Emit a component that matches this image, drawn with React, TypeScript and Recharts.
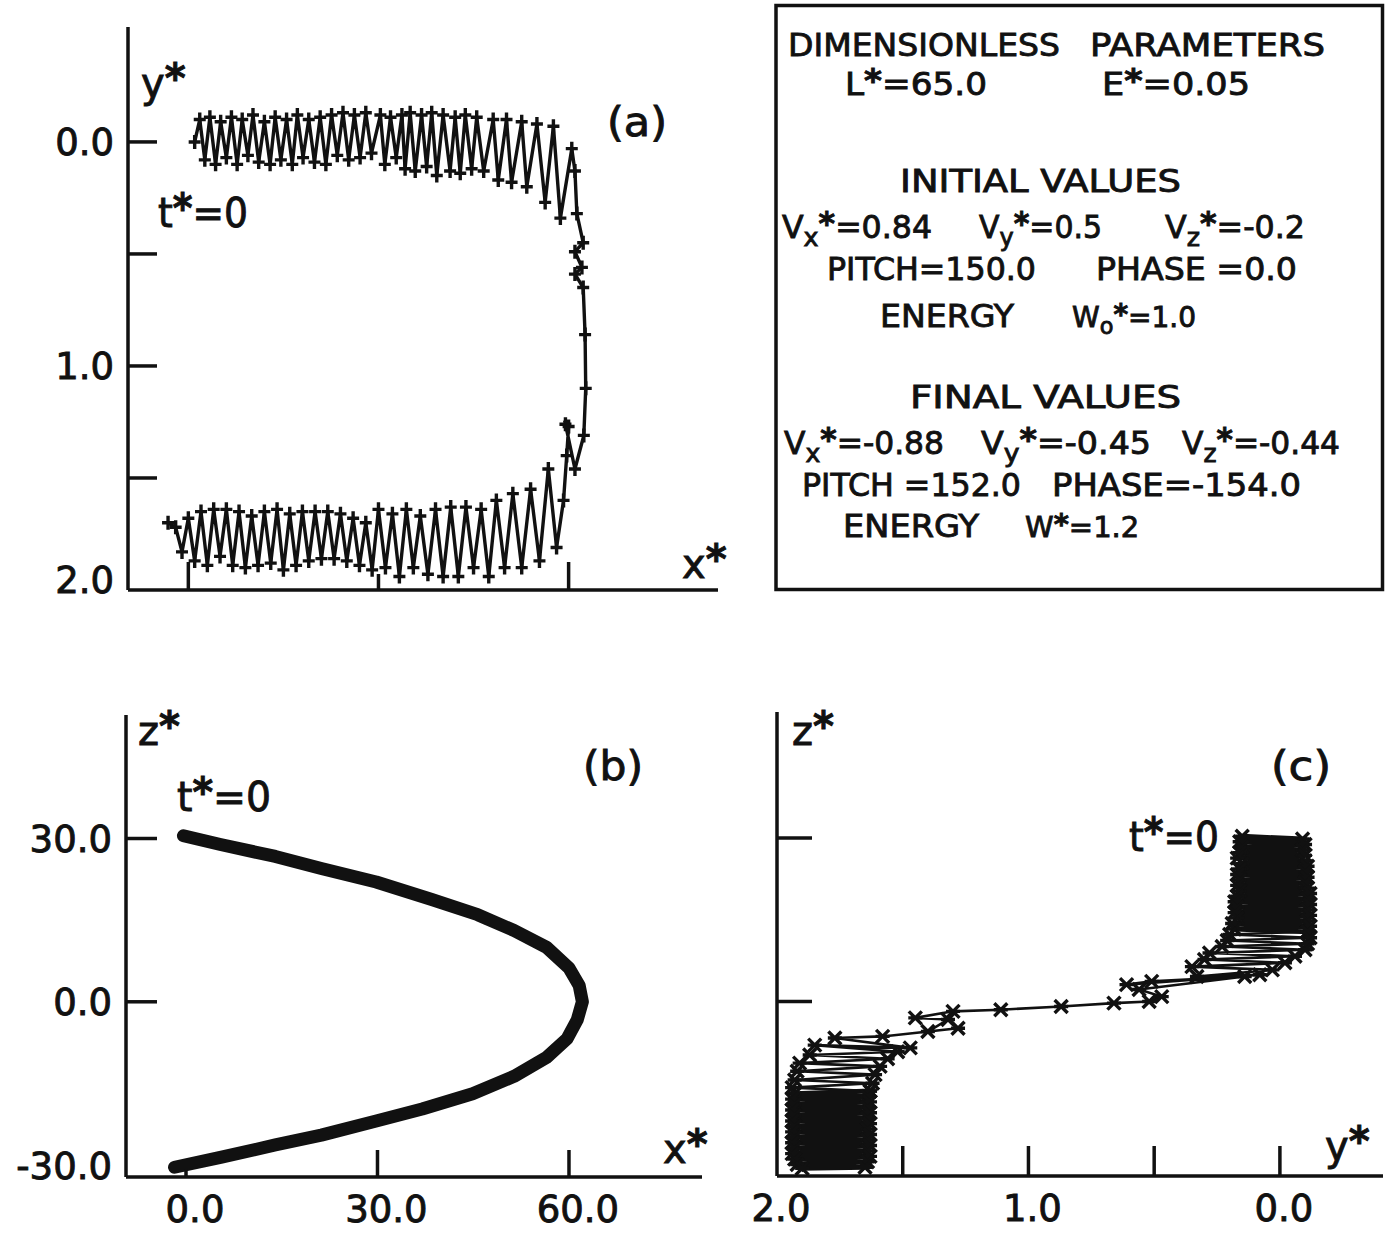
import { Scatter, ScatterChart, XAxis, YAxis } from 'recharts'

const FONT = '"DejaVu Sans", sans-serif'
const INK = '#111'

// (a) x* against y*: outward pass, turn at the mirror, return pass
const A_UPPER: [number, number][] = [
  [1.0, 0.0], [1.8, -0.1], [2.6, 0.08], [3.4, -0.11], [4.3, 0.1], [5.1, -0.09], [6.0, 0.07], [6.8, -0.11],
  [7.7, 0.1], [8.5, -0.1], [9.4, 0.06], [10.2, -0.12], [11.1, 0.09], [12.0, -0.09], [12.9, 0.1], [13.7, -0.11],
  [14.6, 0.08], [15.5, -0.1], [16.4, 0.1], [17.2, -0.12], [18.1, 0.07], [19.0, -0.1], [19.9, 0.09], [20.8, -0.11],
  [21.7, 0.1], [22.6, -0.12], [23.5, 0.06], [24.4, -0.13], [25.3, 0.08], [26.2, -0.12], [27.1, 0.07], [28.0, -0.13],
  [28.9, 0.05], [30.3, -0.12], [31.0, 0.1], [31.9, -0.11], [32.8, 0.07], [33.7, -0.12], [34.2, 0.12], [35.0, -0.13],
  [35.8, 0.13], [36.8, -0.12], [37.6, 0.11], [38.4, -0.13], [39.2, 0.15], [40.2, -0.12], [41.3, 0.13], [42.1, -0.11],
  [42.9, 0.14], [43.7, -0.12], [44.7, 0.12], [45.5, -0.11], [46.6, 0.13], [48.1, -0.1], [48.9, 0.17], [50.2, -0.1],
  [51.0, 0.18], [52.6, -0.09], [53.4, 0.2], [55.0, -0.08], [56.3, 0.27], [57.6, -0.07], [58.7, 0.34], [60.5, 0.03],
]
const A_TURN: [number, number][] = [
  [61.0, 0.13], [61.3, 0.32], [62.3, 0.45], [61.0, 0.49], [62.1, 0.56], [61.0, 0.59], [62.3, 0.65], [62.6, 0.86],
  [62.7, 1.1], [62.4, 1.31], [61.0, 1.46], [59.5, 1.26], [60.0, 1.27], [59.7, 1.4], [59.2, 1.6], [58.1, 1.81],
]
const A_LOWER: [number, number][] = [
  [56.8, 1.46], [55.4, 1.87], [54.0, 1.55], [52.6, 1.9], [51.2, 1.57], [49.9, 1.9], [48.6, 1.6], [47.4, 1.94],
  [46.2, 1.64], [45.0, 1.9], [43.8, 1.63], [42.6, 1.94], [41.4, 1.63], [40.2, 1.94], [39.0, 1.64], [37.8, 1.93],
  [36.6, 1.67], [35.5, 1.9], [34.4, 1.64], [33.3, 1.94], [32.2, 1.66], [31.1, 1.9], [30.0, 1.64], [29.0, 1.91],
  [28.0, 1.7], [27.0, 1.89], [26.0, 1.68], [25.0, 1.87], [24.0, 1.66], [23.0, 1.86], [22.0, 1.65], [21.0, 1.86],
  [20.0, 1.65], [19.0, 1.87], [18.0, 1.65], [17.0, 1.89], [16.0, 1.66], [15.0, 1.91], [14.0, 1.64], [13.0, 1.88],
  [12.0, 1.65], [11.0, 1.89], [10.0, 1.67], [9.0, 1.9], [8.0, 1.65], [7.0, 1.89], [6.0, 1.64], [5.0, 1.85],
  [4.0, 1.64], [3.0, 1.89], [2.0, 1.65], [1.0, 1.87], [0.0, 1.68], [-1.0, 1.83], [-2.0, 1.72], [-3.2, 1.7],
]

// (b) x* against z*
const B_PATH: [number, number][] = [
  [-0.4, 30.5], [5.4, 28.9], [14.0, 26.7], [21.2, 24.5], [29.8, 22.0], [38.5, 18.8], [45.7, 16.0], [51.4, 13.1],
  [56.5, 10.0], [60.0, 6.2], [61.6, 3.0], [62.1, 0.0], [61.3, -3.3], [59.7, -6.8], [56.5, -10.2], [51.4, -13.7],
  [44.9, -16.9], [37.0, -19.7], [29.8, -21.9], [21.2, -24.5], [14.0, -26.3], [5.4, -28.6], [-1.8, -30.4],
]

// (c) y* against z*: dense start, crossing, dense end
const C_TOP: [number, number][] = [
  [0.15, 30.3], [-0.09, 29.8], [0.16, 29.3], [-0.1, 28.8], [0.15, 28.3], [-0.09, 27.8], [0.16, 27.3], [-0.1, 26.8],
  [0.17, 26.3], [-0.1, 25.8], [0.15, 25.3], [-0.11, 24.8], [0.16, 24.3], [-0.1, 23.8], [0.17, 23.3], [-0.11, 22.8],
  [0.16, 22.3], [-0.1, 21.8], [0.17, 21.3], [-0.11, 20.8], [0.16, 20.3], [-0.12, 19.8], [0.17, 19.3], [-0.11, 18.8],
  [0.18, 18.3], [-0.12, 17.8], [0.17, 17.3], [-0.11, 16.8], [0.18, 16.3], [-0.12, 15.8], [0.17, 15.3], [-0.11, 14.8],
  [0.19, 14.3], [-0.12, 13.8], [0.18, 13.3], [-0.11, 12.8],
]
const C_MID: [number, number][] = [
  [0.2, 12.3], [-0.12, 11.7], [0.21, 11.2], [-0.11, 10.6], [0.23, 10.1], [-0.1, 9.5], [0.28, 8.9], [-0.06, 8.3],
  [0.3, 7.7], [-0.02, 7.1], [0.35, 6.4], [0.03, 5.8], [0.33, 4.6], [0.08, 4.9], [0.61, 3.1], [0.51, 3.7],
  [0.14, 4.6], [0.56, 2.2], [0.47, 0.9], [0.52, 0.0], [0.66, -0.3], [0.87, -0.9], [1.11, -1.5], [1.3, -1.8],
  [1.45, -3.0], [1.32, -3.3], [1.4, -5.5], [1.28, -4.9],
]
const C_LAYER: [number, number][] = [
  [1.58, -6.4], [1.77, -6.7], [1.47, -8.5], [1.85, -8.0], [1.52, -9.2], [1.87, -9.8], [1.56, -10.5], [1.91, -11.3],
  [1.59, -11.9], [1.92, -12.8], [1.61, -13.4], [1.93, -14.4], [1.62, -15.0], [1.94, -15.8], [1.63, -16.4],
]
const C_BASE: [number, number][] = [
  [1.93, -16.9], [1.64, -17.4], [1.94, -17.9], [1.63, -18.4], [1.93, -18.9], [1.64, -19.4], [1.94, -19.9], [1.63, -20.4],
  [1.93, -20.9], [1.64, -21.4], [1.94, -21.9], [1.63, -22.4], [1.93, -22.9], [1.64, -23.4], [1.94, -23.9], [1.63, -24.4],
  [1.93, -24.9], [1.64, -25.4], [1.94, -25.9], [1.63, -26.4], [1.93, -26.9], [1.64, -27.4], [1.94, -27.9], [1.63, -28.4],
  [1.93, -28.9], [1.64, -29.4], [1.92, -29.9], [1.65, -30.4], [1.9, -30.6],
]

const A_X_TICKS = [0, 30, 60]
const A_Y_TICKS = [0, 0.5, 1, 1.5, 2]
const B_X_TICKS = [0, 30, 60]
const B_Y_TICKS = [-30, 0, 30]
const C_X_TICKS = [0, 0.5, 1, 1.5, 2]
const C_Y_TICKS = [0, 30]

const toXY = (pts: [number, number][]) => pts.map(([x, y]) => ({ x, y }))

const AXIS = { stroke: INK, strokeWidth: 3.5 }
const TEXT_STROKE = { stroke: INK, strokeWidth: 0.9 }

type TickOpts = {
  len: (v: number) => number
  label: (v: number) => boolean
  dx?: number
  lift?: (v: number) => number
}

function yTick({ len, label, lift = () => 0 }: TickOpts) {
  return (props: any) => {
    const { x, y, payload } = props
    const v = payload.value as number
    const l = len(v)
    return (
      <g>
        {l > 0 && <line x1={x} x2={x + l} y1={y} y2={y} stroke={INK} strokeWidth={3.5} />}
        {label(v) && (
          <text x={x - 14} y={y + 13.5 - lift(v)} textAnchor="end" fontSize={37} fontFamily={FONT} fill={INK} {...TEXT_STROKE}>
            {v.toFixed(1)}
          </text>
        )}
      </g>
    )
  }
}

function xTick({ len, label, dx = 0 }: TickOpts) {
  return (props: any) => {
    const { x, y, payload } = props
    const v = payload.value as number
    const l = len(v)
    return (
      <g>
        {l > 0 && <line x1={x} x2={x} y1={y} y2={y - l} stroke={INK} strokeWidth={3.5} />}
        {label(v) && (
          <text x={x + dx} y={y + 45} textAnchor="middle" fontSize={37} fontFamily={FONT} fill={INK} {...TEXT_STROKE}>
            {v.toFixed(1)}
          </text>
        )}
      </g>
    )
  }
}

const Plus = (p: any) => (
  <path d={`M${p.cx - 6},${p.cy}h12M${p.cx},${p.cy - 7}v14`} stroke={INK} strokeWidth={3.4} />
)
const Cross = (p: any) => (
  <path d={`M${p.cx - 6.5},${p.cy - 6.5}l13,13M${p.cx + 6.5},${p.cy - 6.5}l-13,13M${p.cx - 7},${p.cy}h14`} stroke={INK} strokeWidth={3.4} />
)
const NoDot = () => <g />

type Part = [string, ('sup' | 'sub')?]

function Rich({ x, y, size, w, parts }: { x: number; y: number; size: number; w?: number; parts: Part[] }) {
  let off = 0
  return (
    <text x={x} y={y} fontSize={size} fontFamily={FONT} fill={INK} {...TEXT_STROKE} textLength={w} lengthAdjust={w ? 'spacingAndGlyphs' : undefined}>
      {parts.map(([t, k], i) => {
        const target = k === 'sup' ? -0.12 * size : k === 'sub' ? 0.26 * size : 0
        const dy = target - off
        off = target
        return (
          <tspan key={i} dy={dy || undefined} fontSize={k === 'sub' ? size * 0.8 : size} fontWeight={t === '*' ? 'bold' : undefined}>
            {t}
          </tspan>
        )
      })}
    </text>
  )
}

const BOX = 32

function Annotations() {
  return (
    <svg width={1389} height={1239} style={{ position: 'absolute', left: 0, top: 0, pointerEvents: 'none' }}>
      <rect x={776} y={5.5} width={606.5} height={584} fill="none" stroke={INK} strokeWidth={3.5} />

      <Rich x={788} y={56} size={BOX} w={272} parts={[['DIMENSIONLESS']]} />
      <Rich x={1090} y={56} size={BOX} w={235} parts={[['PARAMETERS']]} />
      <Rich x={845} y={95} size={BOX} w={142} parts={[['L'], ['*', 'sup'], ['=65.0']]} />
      <Rich x={1102} y={95} size={BOX} w={148} parts={[['E'], ['*', 'sup'], ['=0.05']]} />

      <Rich x={900} y={192} size={BOX} w={281} parts={[['INITIAL  VALUES']]} />
      <Rich x={782} y={238} size={BOX} w={150} parts={[['V'], ['x', 'sub'], ['*', 'sup'], ['=0.84']]} />
      <Rich x={979} y={238} size={BOX} w={123} parts={[['V'], ['y', 'sub'], ['*', 'sup'], ['=0.5']]} />
      <Rich x={1165} y={238} size={BOX} w={140} parts={[['V'], ['z', 'sub'], ['*', 'sup'], ['=-0.2']]} />
      <Rich x={827} y={280} size={BOX} w={209} parts={[['PITCH=150.0']]} />
      <Rich x={1096} y={280} size={BOX} w={201} parts={[['PHASE =0.0']]} />
      <Rich x={880} y={327} size={BOX} w={134} parts={[['ENERGY']]} />
      <Rich x={1072} y={327} size={28} parts={[['W'], ['o', 'sub'], ['*', 'sup'], ['=1.0']]} />

      <Rich x={910} y={408} size={BOX} w={271} parts={[['FINAL  VALUES']]} />
      <Rich x={784} y={454} size={BOX} w={160} parts={[['V'], ['x', 'sub'], ['*', 'sup'], ['=-0.88']]} />
      <Rich x={981} y={454} size={BOX} w={170} parts={[['V'], ['y', 'sub'], ['*', 'sup'], ['=-0.45']]} />
      <Rich x={1182} y={454} size={BOX} w={158} parts={[['V'], ['z', 'sub'], ['*', 'sup'], ['=-0.44']]} />
      <Rich x={802} y={496} size={BOX} w={219} parts={[['PITCH =152.0']]} />
      <Rich x={1052} y={496} size={BOX} w={249} parts={[['PHASE=-154.0']]} />
      <Rich x={843} y={537} size={BOX} w={136} parts={[['ENERGY']]} />
      <Rich x={1025} y={537} size={29} parts={[['W'], ['*', 'sup'], ['=1.2']]} />

      {/* panel (a) */}
      <Rich x={141} y={97} size={40} parts={[['y'], ['*', 'sup']]} />
      <Rich x={607} y={136} size={40} w={60} parts={[['(a)']]} />
      <Rich x={158} y={227} size={40} w={90} parts={[['t'], ['*', 'sup'], ['=0']]} />
      <Rich x={682} y={578} size={40} parts={[['x'], ['*', 'sup']]} />

      {/* panel (b) */}
      <Rich x={138} y={745} size={40} parts={[['z'], ['*', 'sup']]} />
      <Rich x={583} y={780} size={40} w={60} parts={[['(b)']]} />
      <Rich x={177} y={811} size={40} w={94} parts={[['t'], ['*', 'sup'], ['=0']]} />
      <Rich x={663} y={1163} size={40} parts={[['x'], ['*', 'sup']]} />

      {/* panel (c) */}
      <Rich x={792} y={745} size={40} parts={[['z'], ['*', 'sup']]} />
      <Rich x={1271} y={780} size={40} w={60} parts={[['(c)']]} />
      <Rich x={1129} y={851} size={40} w={90} parts={[['t'], ['*', 'sup'], ['=0']]} />
      <Rich x={1325} y={1160} size={40} parts={[['y'], ['*', 'sup']]} />
    </svg>
  )
}

export default function App() {
  const dataA = toXY([...A_UPPER, ...A_TURN, ...A_LOWER])
  const dataB = toXY(B_PATH)
  const cTop = toXY(C_TOP)
  const cMid = toXY([C_TOP[C_TOP.length - 1], ...C_MID, ...C_LAYER])
  const cBase = toXY([C_LAYER[C_LAYER.length - 1], ...C_BASE])

  return (
    <div style={{ position: 'absolute', left: 0, top: 0, width: 1389, height: 1239, background: '#fff', overflow: 'hidden' }}>
      <div style={{ position: 'absolute', left: 0, top: 0 }}>
        <ScatterChart width={730} height={620} margin={{ top: 27, right: 12, bottom: 0, left: 0 }}>
          <XAxis
            type="number"
            dataKey="x"
            domain={[-9.52, 83.57]}
            allowDataOverflow
            ticks={A_X_TICKS}
            interval={0}
            height={30}
            tickSize={0}
            tickMargin={0}
            tickLine={false}
            axisLine={AXIS}
            tick={xTick({ len: (v) => (v === 30 ? 16 : 28), label: () => false })}
          />
          <YAxis
            type="number"
            dataKey="y"
            domain={[-0.513, 2.0]}
            reversed
            allowDataOverflow
            ticks={A_Y_TICKS}
            interval={0}
            width={128}
            tickSize={0}
            tickMargin={0}
            tickLine={false}
            axisLine={AXIS}
            tick={yTick({ len: (v) => (v < 2 ? 29 : 0), label: (v) => Number.isInteger(v), lift: (v) => (v === 2 ? 11 : 0) })}
          />
          <Scatter
            data={dataA}
            fill={INK}
            line={{ stroke: INK, strokeWidth: 3.4 }}
            shape={Plus}
            isAnimationActive={false}
          />
        </ScatterChart>
      </div>

      <div style={{ position: 'absolute', left: 0, top: 690 }}>
        <ScatterChart width={730} height={549} margin={{ top: 25, right: 28, bottom: 0, left: 0 }}>
          <XAxis
            type="number"
            dataKey="x"
            domain={[-9.4, 80.84]}
            allowDataOverflow
            ticks={B_X_TICKS}
            interval={0}
            height={62}
            tickSize={0}
            tickMargin={0}
            tickLine={false}
            axisLine={AXIS}
            tick={xTick({ len: (v) => (v === 0 ? 8 : 27), label: () => true, dx: 9 })}
          />
          <YAxis
            type="number"
            dataKey="y"
            domain={[-32.19, 52.69]}
            allowDataOverflow
            ticks={B_Y_TICKS}
            interval={0}
            width={126}
            tickSize={0}
            tickMargin={0}
            tickLine={false}
            axisLine={AXIS}
            tick={yTick({ len: (v) => (v > -30 ? 31 : 0), label: () => true })}
          />
          <Scatter
            data={dataB}
            fill={INK}
            line={{ stroke: INK, strokeWidth: 13, strokeLinejoin: 'round', strokeLinecap: 'round' }}
            shape={NoDot}
            isAnimationActive={false}
          />
        </ScatterChart>
      </div>

      <div style={{ position: 'absolute', left: 740, top: 690 }}>
        <ScatterChart width={649} height={549} margin={{ top: 22, right: 6, bottom: 0, left: 0 }}>
          <XAxis
            type="number"
            dataKey="x"
            domain={[-0.41, 2.0]}
            reversed
            allowDataOverflow
            ticks={C_X_TICKS}
            interval={0}
            height={63}
            tickSize={0}
            tickMargin={0}
            tickLine={false}
            axisLine={AXIS}
            tick={xTick({ len: (v) => (v < 2 ? 30 : 0), label: (v) => Number.isInteger(v), dx: 4 })}
          />
          <YAxis
            type="number"
            dataKey="y"
            domain={[-32.0, 53.1]}
            allowDataOverflow
            ticks={C_Y_TICKS}
            interval={0}
            width={37}
            tickSize={0}
            tickMargin={0}
            tickLine={false}
            axisLine={AXIS}
            tick={yTick({ len: () => 35, label: () => false })}
          />
          <Scatter data={cTop} fill={INK} line={{ stroke: INK, strokeWidth: 5 }} shape={Cross} isAnimationActive={false} />
          <Scatter data={cMid} fill={INK} line={{ stroke: INK, strokeWidth: 2.6 }} shape={Cross} isAnimationActive={false} />
          <Scatter data={cBase} fill={INK} line={{ stroke: INK, strokeWidth: 5 }} shape={Cross} isAnimationActive={false} />
        </ScatterChart>
      </div>

      <Annotations />
    </div>
  )
}
